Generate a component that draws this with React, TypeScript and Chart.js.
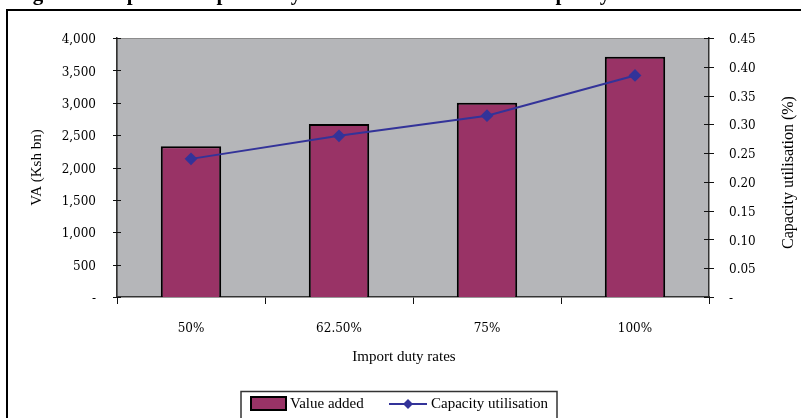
import { useEffect, useRef } from "react";
import { Chart, registerables } from "chart.js";

Chart.register(...registerables);

// Import duty scenarios and the simulated outcomes
const dutyRates = ["50%", "62.50%", "75%", "100%"];
const valueAdded = [2330, 2670, 3000, 3710]; // Ksh bn
const capacityUtilisation = [0.24, 0.28, 0.315, 0.385];

const vaMax = 4000;
const vaStep = 500;
const cuMax = 0.45;
const cuStep = 0.05;

const TITLE = "Figure 9: Impact of import duty rates on value added and capacity utilisation";
const VA_TITLE = "VA (Ksh bn)";
const CU_TITLE = "Capacity utilisation (%)";
const X_TITLE = "Import duty rates";

const W = 801;
const H = 418;
const PLOT = { left: 117, right: 709, top: 38, bottom: 297 };

const PLUM = "#993366";
const NAVY = "#333399";
const PLOT_BG = "#b5b6b9";
const NUM_FONT = "'DejaVu Serif', serif";
const TEXT_FONT = "'Liberation Serif', serif";

function diamond(ctx: CanvasRenderingContext2D, x: number, y: number, r: number) {
  ctx.beginPath();
  ctx.moveTo(x, y - r);
  ctx.lineTo(x + r, y);
  ctx.lineTo(x, y + r);
  ctx.lineTo(x - r, y);
  ctx.closePath();
  ctx.fill();
}

const decorations = {
  id: "decorations",
  beforeDraw(chart: Chart) {
    const { ctx, chartArea: a } = chart;
    ctx.save();
    ctx.fillStyle = "#fff";
    ctx.fillRect(0, 0, W, H);

    // heading sits above the frame; only its descenders reach into the canvas
    ctx.fillStyle = "#000";
    ctx.font = `bold 21px ${TEXT_FONT}`;
    ctx.textAlign = "left";
    ctx.textBaseline = "alphabetic";
    ctx.fillText(TITLE, 14, -0.5);

    // outer frame
    ctx.strokeStyle = "#000";
    ctx.lineWidth = 2;
    ctx.strokeRect(7, 10, W + 40, H + 40);

    // plot area
    ctx.fillStyle = PLOT_BG;
    ctx.fillRect(a.left, a.top, a.right - a.left, a.bottom - a.top);
    ctx.strokeStyle = "#8c8c8c";
    ctx.lineWidth = 1;
    ctx.strokeRect(a.left + 0.5, a.top + 0.5, a.right - a.left - 1, a.bottom - a.top - 1);
    ctx.restore();
  },
  afterDraw(chart: Chart) {
    const { ctx, chartArea: a } = chart;
    const yl = chart.scales.y;
    const yr = chart.scales.y1;
    ctx.save();

    // tick marks crossing both value axes
    ctx.strokeStyle = "#111";
    ctx.lineWidth = 1;
    ctx.beginPath();
    for (let v = 0; v <= vaMax; v += vaStep) {
      const py = Math.round(yl.getPixelForValue(v)) + 0.5;
      ctx.moveTo(a.left - 4, py);
      ctx.lineTo(a.left + 4, py);
    }
    for (let i = 0; i <= Math.round(cuMax / cuStep); i++) {
      const py = Math.round(yr.getPixelForValue(i * cuStep)) + 0.5;
      ctx.moveTo(a.right - 5, py);
      ctx.lineTo(a.right + 5, py);
    }
    ctx.stroke();

    // axis titles
    ctx.fillStyle = "#000";
    ctx.font = `15px ${TEXT_FONT}`;
    ctx.textAlign = "center";
    ctx.textBaseline = "middle";
    const midY = (a.top + a.bottom) / 2;
    ctx.save();
    ctx.translate(37, midY);
    ctx.rotate(-Math.PI / 2);
    ctx.fillText(VA_TITLE, 0, 0);
    ctx.restore();
    ctx.save();
    ctx.font = `16px ${TEXT_FONT}`;
    ctx.translate(789, midY + 5);
    ctx.rotate(-Math.PI / 2);
    ctx.fillText(CU_TITLE, 0, 0);
    ctx.restore();
    ctx.fillText(X_TITLE, 404, 357);

    // legend
    ctx.strokeStyle = "#333";
    ctx.lineWidth = 1.5;
    ctx.strokeRect(241, 391.5, 316, 60);

    ctx.fillStyle = PLUM;
    ctx.fillRect(251, 397, 35, 13);
    ctx.strokeStyle = "#000";
    ctx.lineWidth = 2;
    ctx.strokeRect(251, 397, 35, 13);

    ctx.strokeStyle = NAVY;
    ctx.lineWidth = 2;
    ctx.beginPath();
    ctx.moveTo(389, 404);
    ctx.lineTo(427, 404);
    ctx.stroke();
    ctx.fillStyle = NAVY;
    diamond(ctx, 408, 404, 5);

    ctx.fillStyle = "#000";
    ctx.font = `15px ${TEXT_FONT}`;
    ctx.textAlign = "left";
    ctx.fillText("Value added", 290, 404);
    ctx.fillText("Capacity utilisation", 431, 404);
    ctx.restore();
  },
};

export default function App() {
  const canvasRef = useRef<HTMLCanvasElement | null>(null);

  useEffect(() => {
    const canvas = canvasRef.current;
    if (!canvas) return;
    const chart = new Chart(canvas, {
      type: "bar",
      data: {
        labels: dutyRates,
        datasets: [
          {
            type: "line",
            label: "Capacity utilisation",
            data: capacityUtilisation,
            yAxisID: "y1",
            borderColor: NAVY,
            backgroundColor: NAVY,
            borderWidth: 2,
            pointStyle: "rectRot",
            pointRadius: 5,
            pointBackgroundColor: NAVY,
            pointBorderColor: NAVY,
            tension: 0,
            order: 0,
          },
          {
            type: "bar",
            label: "Value added",
            data: valueAdded,
            yAxisID: "y",
            backgroundColor: PLUM,
            borderColor: "#000",
            borderWidth: 2,
            categoryPercentage: 0.8,
            barPercentage: 0.51,
            order: 1,
          },
        ],
      },
      options: {
        responsive: false,
        animation: false,
        devicePixelRatio: 1,
        layout: { padding: { top: PLOT.top, left: 0, right: 0, bottom: 0 } },
        plugins: {
          legend: { display: false },
          title: { display: false },
          tooltip: { enabled: false },
        },
        scales: {
          x: {
            type: "category",
            offset: true,
            grid: {
              display: true,
              drawOnChartArea: false,
              drawTicks: true,
              tickLength: 7,
              color: "#111",
              lineWidth: 1,
              offset: true,
            },
            border: { display: true, color: "#333", width: 1.5 },
            ticks: {
              color: "#000",
              font: { family: NUM_FONT, size: 12 },
              padding: 18,
              maxRotation: 0,
            },
            afterFit(scale: any) {
              scale.height = H - PLOT.bottom;
            },
          },
          y: {
            position: "left",
            min: 0,
            max: vaMax,
            grid: { display: false, drawTicks: false },
            border: { display: true, color: "#333", width: 1.5 },
            ticks: {
              stepSize: vaStep,
              color: "#000",
              font: { family: NUM_FONT, size: 12 },
              padding: 21,
              labelOffset: 2,
              callback: (v: any) => (Number(v) === 0 ? "-" : Number(v).toLocaleString("en-US")),
            },
            afterFit(scale: any) {
              scale.width = PLOT.left;
            },
          },
          y1: {
            position: "right",
            min: 0,
            max: cuMax,
            grid: { display: false, drawTicks: false, drawOnChartArea: false },
            border: { display: true, color: "#333", width: 1.5 },
            ticks: {
              stepSize: cuStep,
              color: "#000",
              font: { family: NUM_FONT, size: 12 },
              padding: 20,
              labelOffset: 2,
              callback: (v: any) => (Number(v) === 0 ? "-" : Number(v).toFixed(2)),
            },
            afterFit(scale: any) {
              scale.width = W - PLOT.right;
            },
          },
        },
      },
      plugins: [decorations as any],
    });
    return () => chart.destroy();
  }, []);

  return (
    <div style={{ position: "fixed", left: 0, top: 0, width: W, height: H, background: "#fff" }}>
      <canvas ref={canvasRef} width={W} height={H} style={{ display: "block", width: W, height: H }} />
    </div>
  );
}
